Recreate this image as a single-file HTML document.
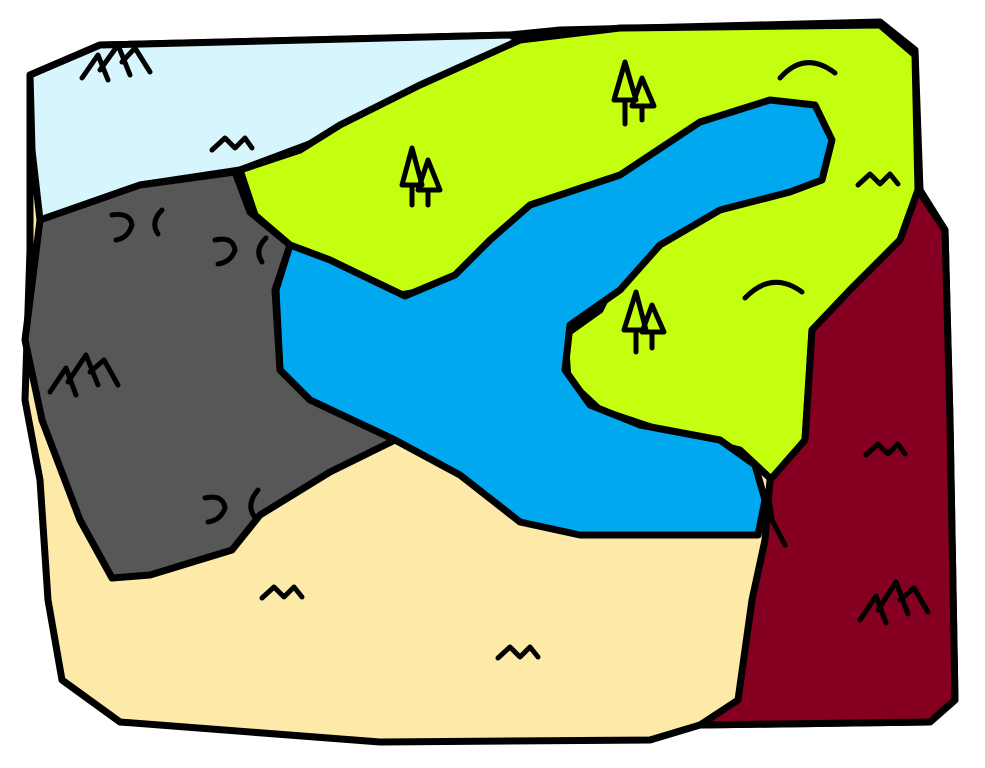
<!DOCTYPE html>
<html><head><meta charset="utf-8"><style>
html,body{margin:0;padding:0;background:#fff;}
svg{display:block;}
</style></head><body>
<svg width="985" height="768" viewBox="0 0 985 768">
<g stroke="#000" stroke-width="7" stroke-linejoin="round" stroke-linecap="round">
<path fill="#fdeaa8" d="M30,75 L100,45 L510,35 L560,30 L880,22 L915,50 L920,190 L945,230 L950,420 L955,700 L930,722 L700,725 L650,740 L380,742 L120,722 L62,680 L48,600 L40,480 L25,400 L30,250 Z"/>
<path fill="#d6f5fc" d="M30,75 L100,45 L510,35 L520,40 L420,90 L320,140 L240,170 L140,185 L40,220 L32,150 Z"/>
<path fill="#c5ff10" d="M240,170 L300,150 L340,125 L420,85 L520,40 L620,28 L880,25 L915,55 L918,190 L900,240 L850,290 L812,330 L805,440 L772,480 L740,450 L660,430 L600,410 L568,380 L565,335 L600,310 L610,290 L560,290 L500,280 L430,290 L400,295 L330,260 L290,245 L255,215 Z"/>
<path fill="#00a8ef" d="M290,245 L330,260 L405,296 L455,275 L490,240 L530,205 L620,175 L700,122 L770,100 L815,105 L832,140 L822,180 L790,192 L720,210 L660,245 L620,290 L570,325 L565,370 L590,405 L640,425 L720,440 L755,465 L765,500 L758,535 L580,535 L520,522 L460,475 L395,440 L310,400 L280,370 L276,290 Z"/>
<path fill="#575757" d="M40,220 L140,185 L235,172 L250,212 L290,245 L275,290 L280,370 L310,400 L395,440 L330,472 L260,515 L232,550 L150,575 L112,578 L80,520 L42,420 L25,340 Z"/>
<path fill="#850020" d="M918,190 L945,230 L950,420 L955,700 L930,722 L700,725 L738,700 L752,600 L765,540 L770,480 L805,440 L812,330 L850,290 L900,240 Z"/>
</g>
<g fill="none" stroke="#000" stroke-width="5" stroke-linecap="round" stroke-linejoin="round">
<path d="M82,78 L98,55 L108,80 M100,70 L118,45 L130,75 M122,62 L135,48 L150,72"/>
<path d="M50,392 L66,368 L76,395 M68,382 L86,355 L98,385 M90,372 L104,360 L118,385"/>
<path d="M860,620 L876,596 L886,623 M878,610 L896,582 L908,614 M900,600 L914,588 L928,612"/>
<path d="M212,150 L225,138 L235,148 L245,138 L252,148"/>
<path d="M858,185 L870,174 L880,184 L890,174 L898,184"/>
<path d="M866,455 L878,444 L888,454 L898,444 L905,454"/>
<path d="M262,598 L274,587 L284,597 L294,587 L302,597"/>
<path d="M498,658 L510,647 L520,657 L530,647 L538,657"/>
<path d="M780,78 Q805,50 835,73"/>
<path d="M745,298 Q772,270 802,292"/>
<path d="M112,215 Q130,212 132,225 Q128,238 116,240 M162,210 Q150,222 158,234"/>
<path d="M215,240 Q233,236 235,250 Q231,262 218,264 M266,238 Q254,250 262,262"/>
<path d="M205,498 Q223,494 225,508 Q221,520 208,522 M258,490 Q246,504 254,516"/>
<path d="M412,148 L402,185 L422,185 Z M412,185 L412,205 M428,160 L418,190 L440,190 Z M428,190 L428,205"/>
<path d="M625,62 L614,100 L636,100 Z M625,100 L625,124 M642,78 L632,106 L654,106 Z M642,106 L642,120"/>
<path d="M636,292 L624,330 L646,330 Z M636,330 L636,352 M652,305 L642,332 L664,332 Z M652,332 L652,348"/>
<path d="M768,490 L772,520 L785,545"/>
</g>
</svg>
</body></html>
